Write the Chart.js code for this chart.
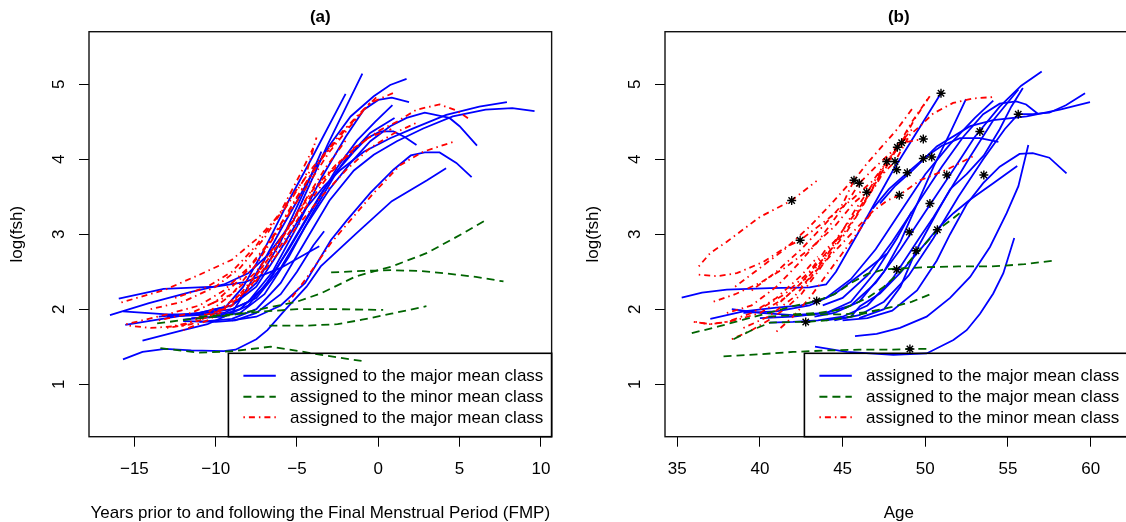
<!DOCTYPE html>
<html><head><meta charset="utf-8">
<script src="https://cdn.jsdelivr.net/npm/chart.js@4.4.1/dist/chart.umd.min.js"></script>
<style>
html,body{margin:0;padding:0;background:#fff;overflow:hidden;width:1126px;height:522px;}
#wrap{position:relative;width:1126px;height:522px;overflow:hidden;}
canvas{position:absolute;top:0;}
#ca{left:0;width:563px;height:522px;}
#cb{left:563px;width:620px;height:522px;}
</style></head><body>
<div id="wrap"><canvas id="ca" width="563" height="522"></canvas><canvas id="cb" width="620" height="522"></canvas></div>
<script>
// ---------- tick labels ----------
const aTicksX = [-15, -10, -5, 0, 5, 10];
const bTicksX = [35, 40, 45, 50, 55, 60];
const yTicks = [1, 2, 3, 4, 5];

// ---------- panel (a): years relative to FMP ----------
const aBlue = [
 [[-15.96,2.14],[-13.2,2.27],[-10.0,2.30],[-8.2,2.36],[-6.0,2.55],[-3.63,2.84]],
 [[-16.5,1.92],[-14.1,2.08],[-11.5,2.23],[-9.5,2.33],[-8,2.48],[-6.8,2.72],[-5.2,3.19],[-3.1,4.2],[-0.98,5.14]],
 [[-15.7,1.97],[-13,1.93],[-11,1.93],[-9.5,2.0],[-8.3,2.3],[-7,2.8],[-5.5,3.45],[-4,4.05],[-2.01,4.87]],
 [[-14.5,1.58],[-12,1.72],[-10.5,1.8],[-9,1.95],[-8,2.3],[-7,2.66],[-6,3.06],[-4.95,3.46],[-3.94,3.86],[-2.92,4.21],[-1.7,4.57],[-0.28,4.84],[0.73,4.99],[1.74,5.07]],
 [[-13,1.9],[-11,1.92],[-9.5,1.95],[-8,2.1],[-6.5,2.5],[-5,3.1],[-3.5,3.75],[-2,4.3],[-0.89,4.66],[0.0,4.79],[0.83,4.82],[1.89,4.76]],
 [[-12,1.86],[-10,1.9],[-8.5,2.0],[-7,2.3],[-5.5,2.8],[-4,3.35],[-2.5,3.9],[-1.3,4.25],[-0.18,4.5],[0.87,4.72]],
 [[-15.56,1.79],[-13,1.88],[-11,1.95],[-9,2.05],[-7.5,2.3],[-6,2.8],[-4.54,3.32],[-3.33,3.64],[-2.31,3.86],[-0.89,4.10],[0.73,4.28],[2.15,4.41],[4.18,4.59],[6.21,4.70],[7.91,4.76]],
 [[-11,1.83],[-9,1.87],[-7.5,2.0],[-6,2.35],[-4.5,2.9],[-3,3.45],[-1.5,3.85],[-0.28,4.06],[1.14,4.24],[2.76,4.41],[4.58,4.57],[6.6,4.66],[8.24,4.68],[9.61,4.64]],
 [[-10.5,1.95],[-9,2.0],[-7.5,2.15],[-6,2.55],[-4.5,3.1],[-3,3.6],[-1.7,3.95],[-0.49,4.24],[0.73,4.44],[1.74,4.55],[2.86,4.62],[4.38,4.55],[5.0,4.44],[6.07,4.18]],
 [[-10,1.9],[-8.5,1.95],[-7,2.2],[-5.5,2.7],[-4,3.3],[-2.5,3.85],[-1.5,4.1],[-0.69,4.28],[0.12,4.37],[0.93,4.37],[1.6,4.3],[2.35,4.19]],
 [[-9,1.85],[-7.5,1.9],[-6,2.05],[-4.5,2.35],[-2.92,2.92],[-1.91,3.19],[-0.49,3.55],[0.93,3.86],[2.0,4.05],[2.86,4.09],[3.77,4.09],[4.8,3.95],[5.74,3.76]],
 [[-15.7,1.33],[-14.5,1.43],[-13.1,1.47],[-11.5,1.45],[-9.5,1.44],[-8.78,1.46],[-7.5,1.6],[-6.82,1.72],[-5.73,1.99],[-4.41,2.3],[-3.54,2.57],[-1.35,3.01],[0.83,3.44],[3.0,3.72],[4.17,3.88]],
 [[-12,1.84],[-10,1.83],[-8.8,1.85],[-7.5,1.95],[-6,2.2],[-5,2.5],[-4,2.85],[-3.33,3.04]],
 [[-13.5,1.9],[-11,1.95],[-9,2.05],[-7.5,2.35],[-6,2.9],[-4.5,3.6],[-3.5,4.1]],
 [[-11.5,1.88],[-9.5,1.9],[-8,2.05],[-6.5,2.45],[-5,3.0],[-3.5,3.55],[-2,4.0],[-0.5,4.35],[1,4.55]]
];
const aGreen = [
 [[-2.9,2.49],[-1,2.51],[0.8,2.52],[2.5,2.51],[4.1,2.48],[6,2.43],[7.7,2.37]],
 [[-13.6,1.81],[-11.5,1.87],[-9,1.92],[-6.8,2.02],[-5,2.1],[-3.54,2.21],[-1.35,2.44],[0.83,2.57],[3.0,2.75],[5.2,3.01],[6.62,3.19]],
 [[-11,1.9],[-9,1.93],[-7,1.97],[-5,2.0],[-2.5,2.0],[0.3,1.99]],
 [[-6.7,1.78],[-4.5,1.78],[-2.5,1.80],[-1,1.86],[0.8,1.94],[2.96,2.04]],
 [[-13.4,1.48],[-11,1.42],[-9,1.44],[-6.6,1.50],[-4.85,1.44],[-3.5,1.39],[-1.03,1.31]]
];
const aRed = [
 [[-15.8,2.09],[-13.1,2.26],[-11,2.46],[-9,2.66],[-7.4,2.95],[-5.8,3.32],[-4.5,3.75],[-3.8,4.29]],
 [[-15.5,1.8],[-13,1.93],[-11,2.05],[-9.5,2.25],[-8,2.55],[-6.5,2.95],[-5,3.5],[-3.5,4.0],[-2,4.4],[-0.5,4.75],[1.0,4.89]],
 [[-15.3,1.78],[-14,1.75],[-12,1.78],[-10.5,1.95],[-9,2.2],[-7.5,2.6],[-6,3.1],[-4.5,3.6],[-3,4.1],[-1.5,4.5],[-0.5,4.75]],
 [[-12,1.72],[-10.5,1.85],[-9,2.05],[-7.5,2.4],[-6,2.85],[-4.5,3.35],[-3,3.8],[-1.5,4.15],[0.12,4.39],[1.14,4.5],[2.35,4.66],[3.77,4.73],[4.8,4.65],[5.7,4.52]],
 [[-5.5,2.1],[-4.3,2.45],[-2.92,2.88],[-1.7,3.19],[-0.28,3.55],[1.34,3.92],[2.76,4.10],[4.59,4.23]],
 [[-13.5,1.85],[-11.5,1.95],[-10,2.1],[-8.5,2.4],[-7,2.8],[-5.5,3.3],[-4,3.85],[-2.5,4.3],[-1.2,4.6],[0,4.85]],
 [[-12.5,1.78],[-11,1.85],[-9.5,2.0],[-8,2.3],[-6.5,2.75],[-5,3.25],[-3.5,3.7],[-2,4.05],[-0.5,4.3],[0.8,4.4]],
 [[-11,1.9],[-9.5,2.0],[-8,2.25],[-6.5,2.65],[-5,3.1],[-3.5,3.5],[-2,3.85],[-0.5,4.15],[1,4.35],[2.5,4.5]],
 [[-14,2.0],[-12,2.1],[-10,2.3],[-8.5,2.55],[-7,2.95],[-5.5,3.45],[-4,3.9],[-2.8,4.2]],
 [[-13,1.75],[-11.5,1.8],[-10,1.95],[-8.5,2.2],[-7,2.6],[-5.5,3.1],[-4,3.6],[-2.5,3.95],[-1.5,4.1]],
 [[-12.5,2.15],[-10.5,2.3],[-9,2.5],[-7.5,2.85],[-6,3.3],[-4.8,3.8],[-4.0,4.15]],
 [[-10.5,2.05],[-9,2.2],[-7.5,2.5],[-6,2.95],[-4.5,3.45],[-3.2,3.9],[-2,4.25]]
];

// ---------- panel (b): age ----------
const bBlue = [
 [[35.27,2.155],[36.5,2.22],[38,2.26],[40.6,2.28],[43,2.29],[44,2.33],[44.6,2.5],[46.05,3.06],[48.07,3.86],[50.95,4.88]],
 [[38.3,2.0],[40,1.95],[42,1.92],[44,1.95],[45.5,2.05],[47,2.35],[48.5,2.8],[50,3.3],[51.7,3.86],[53,4.3],[54.5,4.7],[55.8,4.98],[57.04,5.17]],
 [[40.6,1.82],[42,1.83],[43.5,1.85],[45,1.9],[46.5,2.05],[48,2.4],[49.7,2.97],[50.5,3.23],[51.5,3.59],[52.7,4.03],[54.11,4.52],[55.63,4.93]],
 [[37,1.87],[39,1.97],[41,2.02],[42.5,2.05],[44,2.15],[45.5,2.4],[47,2.8],[48.5,3.3],[50,3.8],[51.5,4.2],[53,4.55],[54.11,4.78]],
 [[43.3,1.9],[44.5,1.95],[46,2.1],[47.5,2.5],[48.5,2.9],[49.5,3.4],[50.5,3.9],[51.5,4.35],[52.46,4.80]],
 [[46.82,3.34],[47.8,3.6],[48.87,3.81],[50.08,4.04],[51,4.18],[52.1,4.28],[53.3,4.28],[54.42,4.23]],
 [[47.26,3.41],[48.2,3.65],[49.28,3.86],[50.69,4.17],[52.71,4.44],[54.11,4.52],[56.13,4.57],[58.14,4.66],[59.96,4.76]],
 [[43.8,2.05],[45,2.15],[46.5,2.45],[48,2.9],[49.5,3.4],[51,3.9],[52.3,4.3],[53.5,4.6],[54.5,4.74],[55.5,4.77],[56.1,4.73],[56.84,4.60]],
 [[44.5,1.85],[46,1.92],[47.5,2.1],[49,2.45],[50.5,2.95],[52,3.5],[53.5,4.0],[54.8,4.4],[55.62,4.6],[56.5,4.6],[57.5,4.62],[58.5,4.72],[59.66,4.88]],
 [[45,1.85],[46.5,1.88],[48,1.98],[49.5,2.25],[50.7,2.65],[51.5,3.0],[52.5,3.4],[53.5,3.68],[54.5,3.9],[55.7,4.07],[56.5,4.08],[57.5,4.02],[58.54,3.81]],
 [[44,1.85],[45.5,1.9],[46.05,2.04],[47.26,2.21],[48.47,2.48],[49.68,2.79],[50.69,3.06],[51.7,3.28],[52.7,3.46],[54.11,3.68],[55.56,3.91]],
 [[45.75,1.64],[47.06,1.67],[48.47,1.75],[50.08,1.90],[51.5,2.15],[52.71,2.43],[53.91,2.83],[54.92,3.28],[55.63,3.64],[56.23,4.19]],
 [[43.33,1.50],[45.25,1.43],[48.07,1.39],[50.08,1.41],[51.7,1.59],[52.5,1.72],[53.31,1.94],[54.11,2.21],[54.72,2.48],[55.38,2.95]],
 [[40,1.88],[42,1.9],[44,1.95],[45.5,2.1],[47,2.5],[48.3,2.95],[49.18,3.3]],
 [[39,1.95],[41,1.97],[43,2.05],[44.5,2.2],[46,2.45],[47.67,2.74]],
 [[46,1.88],[47.5,2.0],[48.5,2.3],[49.44,2.78],[50.73,3.3],[51.5,3.6],[52.5,3.8],[53.54,4.05],[54.5,4.4],[55.2,4.7],[55.9,4.95]]
];
const bGreen = [
 [[37.8,1.37],[40,1.40],[42,1.43],[44,1.45],[46,1.46],[48,1.46],[49.07,1.47],[50.3,1.47]],
 [[35.88,1.68],[37.5,1.77],[39,1.86],[40.5,1.95],[42,2.04],[43.43,2.11],[44.5,2.2],[45.5,2.35],[46.5,2.47],[47.5,2.53],[48.27,2.54],[50,2.56],[52,2.57],[54,2.57],[56,2.6],[57.84,2.65]],
 [[42,1.93],[43.5,1.95],[45,2.0],[46.5,2.15],[47.5,2.3],[48.5,2.5],[49.44,2.74],[50.2,2.92],[50.73,3.06],[51.5,3.18],[52.2,3.30]],
 [[40.5,1.9],[42,1.92],[43.5,1.93],[45,1.93],[46.5,1.96],[48,2.03],[49.2,2.1],[50.3,2.2]],
 [[38.4,1.6],[39.5,1.72],[40.6,1.82],[42,1.83],[42.77,1.83],[44,1.85],[45.5,1.9],[47,1.98]]
];
const bRed = [
 [[36.3,2.57],[37,2.75],[38,2.9],[40,3.23],[41.92,3.45],[43.43,3.71]],
 [[36.3,2.46],[37.4,2.44],[38.6,2.48],[40.2,2.63],[41.6,2.83],[42.43,2.92],[44.04,3.19],[45.65,3.48],[46.86,3.72],[47.67,3.97],[48.5,4.2],[49.4,4.55],[50.3,4.85]],
 [[36,1.83],[37,1.8],[38.5,1.85],[40,1.95],[41.5,2.15],[43,2.45],[44.5,2.85],[45.69,3.2],[46.5,3.5],[47.3,3.8],[48.31,4.16],[49.2,4.5],[50.2,4.82]],
 [[38.3,1.6],[39.5,1.72],[40.5,1.85],[41.5,2.0],[42.5,2.2],[43.5,2.5],[44.5,2.82],[45.3,3.05],[46.01,3.3],[46.8,3.6],[47.67,3.97],[48.57,4.22]],
 [[37.2,2.1],[38.5,2.2],[40,2.35],[41.5,2.55],[43,2.8],[44.5,3.1],[45.69,3.42],[46.46,3.56],[47.2,3.75],[48.17,3.97],[49.0,4.3]],
 [[38,1.95],[39.5,2.05],[41,2.3],[42.3,2.6],[43.5,2.9],[44.5,3.2],[45.5,3.5],[46.01,3.68],[47,3.9],[48.27,4.16],[49.2,4.4]],
 [[39,1.75],[40.5,1.9],[42,2.15],[43,2.4],[44,2.7],[45,3.05],[45.69,3.3],[46.5,3.56],[47.67,3.97],[48.57,4.22],[49.88,4.27]],
 [[41,2.05],[42.5,2.35],[44,2.75],[45.5,3.2],[47,3.65],[48.47,4.21],[49.68,4.44],[50.48,4.61],[51.68,4.75],[52.89,4.81],[54.21,4.83]],
 [[42.5,2.3],[44,2.65],[45.5,3.0],[46.8,3.3],[47.7,3.45],[48.43,3.52],[49.68,3.72],[51.3,3.86],[52.9,4.04]],
 [[39.5,2.25],[41,2.5],[42.5,2.8],[44,3.15],[45,3.4],[45.69,3.72],[46.5,3.95],[47.5,4.2],[48.3,4.4],[49.3,4.7]],
 [[40,2.0],[41.5,2.2],[43,2.5],[44,2.8],[44.95,2.99]],
 [[36.1,1.83],[37,1.8],[38,1.83],[39.5,1.95],[41,2.15],[42.5,2.45],[43.5,2.7]],
 [[38.5,2.3],[40,2.55],[41.5,2.8],[43,3.1],[44.5,3.45],[45.5,3.7]],
 [[41,1.7],[42,1.9],[43,2.15],[44,2.45],[45,2.75],[46,3.05],[46.8,3.3]]
];
const bStars = [
 [41.92,3.45],[42.43,2.92],[45.69,3.72],[46.01,3.68],[46.46,3.56],[47.67,3.97],[48.17,3.97],[48.27,3.86],
 [48.31,4.16],[48.57,4.22],[48.43,3.52],[50.95,4.88],[49.88,4.27],[49.88,4.01],[50.39,4.03],[48.91,3.82],
 [53.30,4.37],[55.62,4.60],[51.30,3.79],[53.54,3.79],[50.28,3.41],[49.03,3.03],[50.73,3.06],[49.44,2.78],
 [48.27,2.53],[43.43,2.11],[42.77,1.83],[49.07,1.47]
];

// ---------- styling ----------
const BLUE = '#0000FF', GREEN = '#006400', RED = '#FF0000';
const DASH_GREEN = [8, 5];
const DASH_RED = [1.5, 4, 6, 4];
const FONT = '"Liberation Sans", Arial, Helvetica, sans-serif';

function lineSets(curves, color, dash, order) {
  return curves.map(c => ({
    data: c.map(p => ({x: p[0], y: p[1]})),
    showLine: true, borderColor: color, backgroundColor: color, borderWidth: 1.8,
    borderDash: dash, pointRadius: 0, pointHoverRadius: 0, fill: false, tension: 0, order
  }));
}
function fmt(v) { return v < 0 ? '\u2212' + Math.abs(v) : String(v); }

function decorPlugin(o) {
  return {
    id: 'decor',
    afterDraw(chart) {
      const ctx = chart.ctx, a = chart.chartArea;
      ctx.save();
      ctx.setLineDash([]);
      ctx.strokeStyle = '#111'; ctx.lineWidth = 1.4;
      ctx.strokeRect(a.left, a.top, a.right - a.left, a.bottom - a.top);
      // legend
      const lx = a.left + 139.4, ly = 353.3;
      ctx.lineWidth = 1.6; ctx.strokeStyle = '#000';
      ctx.strokeRect(lx, ly, a.right - lx, a.bottom - ly);
      const rows = [22.4, 43.4, 64.0];
      ctx.font = '17px ' + FONT; ctx.fillStyle = '#000';
      ctx.textAlign = 'left'; ctx.textBaseline = 'middle';
      o.legend.forEach((it, i) => {
        const y = ly + rows[i];
        ctx.beginPath(); ctx.setLineDash(it.dash); ctx.strokeStyle = it.color; ctx.lineWidth = 2;
        ctx.moveTo(lx + 15, y); ctx.lineTo(lx + 47.4, y); ctx.stroke();
        ctx.setLineDash([]);
        ctx.fillText(it.text, lx + 61.7, y + 1);
      });
      // titles
      const cx = (a.left + a.right) / 2;
      ctx.textAlign = 'center'; ctx.textBaseline = 'middle';
      ctx.font = 'bold 17px ' + FONT;
      ctx.fillText(o.title, cx, 17);
      ctx.font = '17px ' + FONT;
      ctx.fillText(o.xTitle, cx, 513.5);
      ctx.translate(a.left - 71.8, (a.top + a.bottom) / 2);
      ctx.rotate(-Math.PI / 2);
      ctx.fillText('log(fsh)', 0, 0);
      ctx.restore();
    }
  };
}

function makeChart(id, o) {
  const datasets = [].concat(
    lineSets(o.blue, BLUE, [], 3),
    lineSets(o.red, RED, DASH_RED, 2),
    lineSets(o.green, GREEN, DASH_GREEN, 1)
  );
  if (o.stars) {
    datasets.push({
      data: o.stars.map(p => ({x: p[0], y: p[1]})), showLine: false,
      pointStyle: 'star', pointRadius: 4.5, borderColor: '#000', backgroundColor: '#000',
      borderWidth: 1.4, order: 0
    });
  }
  return new Chart(document.getElementById(id), {
    type: 'scatter',
    data: {datasets},
    options: {
      responsive: false, animation: false, devicePixelRatio: 1, events: [],
      layout: {padding: {left: 0, top: 31.7, right: o.padRight, bottom: 0}},
      plugins: {legend: {display: false}, tooltip: {enabled: false}, title: {display: false}},
      scales: {
        x: {
          type: 'linear', min: o.xmin, max: o.xmax,
          afterBuildTicks(s) { s.ticks = o.xticks.map(v => ({value: v})); },
          afterFit(s) { s.height = 85.3; },
          grid: {drawOnChartArea: false, drawTicks: true, tickLength: 10, color: '#000', tickColor: '#000', tickWidth: 1},
          border: {display: false},
          ticks: {color: '#000', font: {family: FONT, size: 17}, padding: 12.5, maxRotation: 0, minRotation: 0, autoSkip: false, callback: v => fmt(v)}
        },
        y: {
          type: 'linear', min: 0.3, max: 5.7,
          afterBuildTicks(s) { s.ticks = yTicks.map(v => ({value: v})); },
          afterFit(s) { s.width = o.yWidth; },
          grid: {drawOnChartArea: false, drawTicks: true, tickLength: 10, color: '#000', tickColor: '#000', tickWidth: 1},
          border: {display: false},
          ticks: {color: '#000', font: {family: FONT, size: 17}, padding: 15, minRotation: 90, maxRotation: 90, crossAlign: 'center', autoSkip: false, callback: v => fmt(v)}
        }
      }
    },
    plugins: [decorPlugin(o)]
  });
}

makeChart('ca', {
  blue: aBlue, green: aGreen, red: aRed, stars: null,
  xmin: -17.79, xmax: 10.66, xticks: aTicksX, yWidth: 89, padRight: 6.5,
  title: '(a)', xTitle: 'Years prior to and following the Final Menstrual Period (FMP)',
  legend: [
    {text: 'assigned to the major mean class', color: BLUE, dash: []},
    {text: 'assigned to the minor mean class', color: GREEN, dash: DASH_GREEN},
    {text: 'assigned to the major mean class', color: RED, dash: DASH_RED}
  ]
});
makeChart('cb', {
  blue: bBlue, green: bGreen, red: bRed, stars: bStars,
  xmin: 34.26, xmax: 62.53, xticks: bTicksX, yWidth: 102, padRight: 50.5,
  title: '(b)', xTitle: 'Age',
  legend: [
    {text: 'assigned to the major mean class', color: BLUE, dash: []},
    {text: 'assigned to the major mean class', color: GREEN, dash: DASH_GREEN},
    {text: 'assigned to the minor mean class', color: RED, dash: DASH_RED}
  ]
});
</script></body></html>
